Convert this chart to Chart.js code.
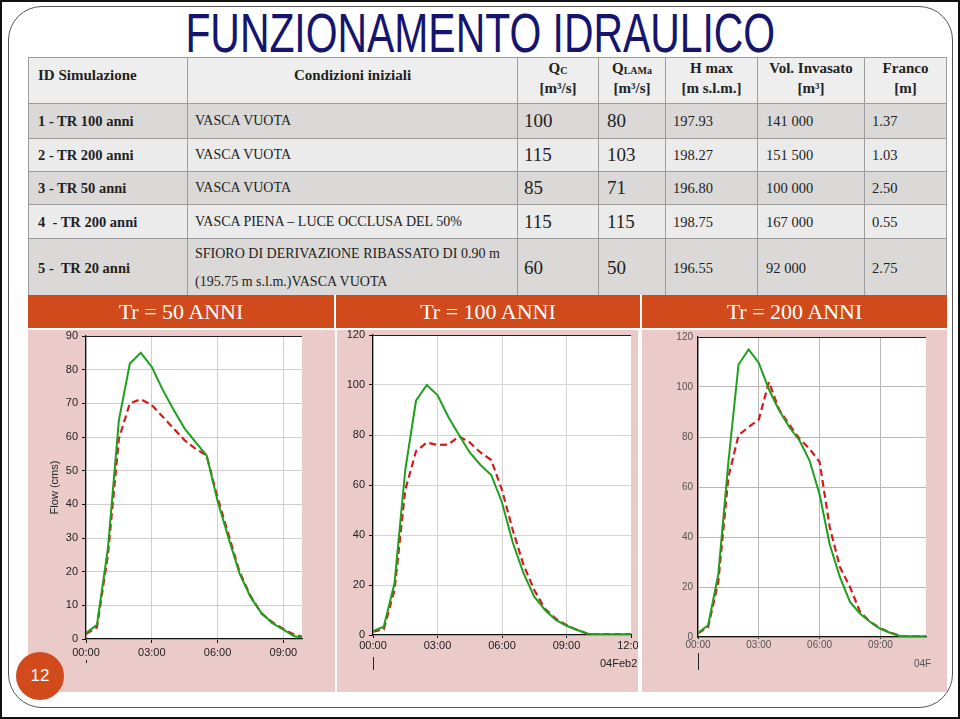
<!DOCTYPE html>
<html>
<head>
<meta charset="utf-8">
<title>Funzionamento idraulico</title>
<script src="https://cdn.jsdelivr.net/npm/chart.js@4.4.1/dist/chart.umd.min.js"></script>
<style>
html, body { margin: 0; padding: 0; }
body { width: 960px; height: 719px; position: relative; overflow: hidden; background: #fff; font-family: "Liberation Serif", "Times New Roman", serif; }
#outer { position: absolute; left: 0; top: 0; width: 956px; height: 715px; border: 2px solid #111; }
#frame { position: absolute; left: 8px; top: 6px; width: 943px; height: 700px; border: 1.5px solid #555; border-radius: 34px; }
#title { position: absolute; left: 0; top: 3px; width: 960px; text-align: center; white-space: nowrap;
  font: 56px/60px "Liberation Sans", Arial, sans-serif; color: #15156e;
  transform: scaleX(0.73); transform-origin: 481px 0; }
table { position: absolute; left: 28px; top: 57px; width: 918px; border-collapse: collapse; table-layout: fixed; }
td { border: 1.5px solid #9c9c9c; padding: 0 0 0 7px; font-size: 14px; line-height: 18px; color: #222; white-space: nowrap; overflow: hidden; }
tr.hd td { background: #eeeeee; vertical-align: top; padding-top: 0; line-height: 20px; font-weight: bold; text-align: center; padding-left: 0; font-size: 15px; }
tr.hd td.first { text-align: left; padding-left: 9px; padding-top: 7px; }
tr.hd td.cond { padding-top: 7px; }
tr.hd sub { font-size: 10px; line-height: 0; vertical-align: -1px; }
tr.dk td { background: #dad9d8; }
tr.lt td { background: #ebebeb; }
td.id { font-weight: bold; font-size: 14.5px; padding-left: 9px; }
td.q { font-size: 19px; padding-left: 6px; }
td.q2 { font-size: 19px; padding-left: 8px; }
td.h { font-size: 14.5px; padding-left: 7px; }
td.v { font-size: 14.5px; padding-left: 8px; }
td.cond2 { line-height: 28px; }
#band { position: absolute; left: 28px; top: 295px; width: 919px; height: 33px; display: flex; }
#band div { background: #d04a1c; color: #fff; font-size: 22px; line-height: 33px; text-align: center; }
.panel { position: absolute; top: 330px; height: 362px; background: #ebcaca; overflow: hidden; }
.panel canvas { position: absolute; left: 0; top: -20px; }
.date { position: absolute; font: 11px "Liberation Sans", Arial, sans-serif; color: #222; white-space: nowrap; }
#page { position: absolute; left: 16px; top: 652px; width: 48px; height: 48px; border-radius: 50%; background: #d04a1c; color: #fff;
  font: 17px/48px "Liberation Sans", Arial, sans-serif; text-align: center; }
</style>
</head>
<body>
<div id="outer"></div>
<div id="frame"></div>
<div id="title">FUNZIONAMENTO IDRAULICO</div>

<table>
  <colgroup>
    <col style="width:159px"><col style="width:330px"><col style="width:81px"><col style="width:67px">
    <col style="width:92px"><col style="width:107px"><col style="width:82px">
  </colgroup>
  <tr class="hd" style="height:46px">
    <td class="first">ID Simulazione</td>
    <td class="cond">Condizioni iniziali</td>
    <td>Q<sub>C</sub><br>[m³/s]</td>
    <td>Q<sub>LAMa</sub><br>[m³/s]</td>
    <td>H max<br>[m s.l.m.]</td>
    <td>Vol. Invasato<br>[m³]</td>
    <td>Franco<br>[m]</td>
  </tr>
  <tr class="dk" style="height:35px">
    <td class="id">1 - TR 100 anni</td><td>VASCA VUOTA</td>
    <td class="q">100</td><td class="q2">80</td><td class="h">197.93</td><td class="v">141 000</td><td class="h">1.37</td>
  </tr>
  <tr class="lt" style="height:33px">
    <td class="id">2 - TR 200 anni</td><td>VASCA VUOTA</td>
    <td class="q">115</td><td class="q2">103</td><td class="h">198.27</td><td class="v">151 500</td><td class="h">1.03</td>
  </tr>
  <tr class="dk" style="height:33px">
    <td class="id">3 - TR 50 anni</td><td>VASCA VUOTA</td>
    <td class="q">85</td><td class="q2">71</td><td class="h">196.80</td><td class="v">100 000</td><td class="h">2.50</td>
  </tr>
  <tr class="lt" style="height:34px">
    <td class="id">4&nbsp; - TR 200 anni</td><td>VASCA PIENA – LUCE OCCLUSA DEL 50%</td>
    <td class="q">115</td><td class="q2">115</td><td class="h">198.75</td><td class="v">167 000</td><td class="h">0.55</td>
  </tr>
  <tr class="dk" style="height:58px">
    <td class="id">5 -&nbsp; TR 20 anni</td><td class="cond2">SFIORO DI DERIVAZIONE RIBASSATO DI 0.90 m<br>(195.75 m s.l.m.)VASCA VUOTA</td>
    <td class="q">60</td><td class="q2">50</td><td class="h">196.55</td><td class="v">92 000</td><td class="h">2.75</td>
  </tr>
</table>

<div id="band">
  <div style="width:306px">Tr = 50 ANNI</div>
  <div style="width:2px;background:#fff"></div>
  <div style="width:304px">Tr = 100 ANNI</div>
  <div style="width:2px;background:#fff"></div>
  <div style="width:305px">Tr = 200 ANNI</div>
</div>

<div class="panel" style="left:28px;width:307px"><canvas id="c50"></canvas></div>
<div class="panel" style="left:337px;width:301px"><canvas id="c100"></canvas><div class="date" style="left:263px;top:327px">04Feb2</div></div>
<div class="panel" style="left:642px;width:305px"><canvas id="c200"></canvas><div class="date" style="left:272px;top:328px;font-size:10px;color:#555">04F</div></div>

<div id="page">12</div>

<script>
// ====== DATA (hours from 00:00, flow in cms) ======
const hoursTr50  = [0,0.5,1,1.5,2,2.5,3,3.5,4,4.5,5,5.5,6,6.5,7,7.5,8,8.5,9,9.5,10];
const inTr50     = [1.8,4.2,27,65,81.8,85,80.8,74,68,62.5,58.5,54.5,41,30,19.5,12.5,7.7,4.7,2.8,0.8,0.3];
const outTr50    = [1.5,3.5,25,59.5,70,71.2,69.5,66,62.5,59,56.5,54.5,42,31,20,12.8,7.6,5,3,1.3,0.5];

const hoursTr100 = [0,0.5,1,1.5,2,2.5,3,3.5,4,4.5,5,5.5,6,6.5,7,7.5,8,8.5,9,9.5,10,10.5,11,11.5,12];
const inTr100    = [1.6,3.3,20.7,66,93.7,100,96,87.3,80,73,68,64,53,37,24.7,15.3,10,6,3.7,2,0.5,0.3,0.3,0.3,0.3];
const outTr100   = [1.3,2.3,18,58,73.5,77,76,76.2,79.5,77,73,70,58,42,28,18,10.5,6.5,4,2,0.4,0.4,0.4,0.4,0.4];

const hoursTr200 = [0,0.5,1,1.5,2,2.5,3,3.5,4,4.5,5,5.5,6,6.5,7,7.5,8,8.5,9,9.5,10,10.5,11,11.5];
const inTr200    = [1.6,4.7,25,70,109,115,109.6,99,90.7,84,78.7,70.7,57,37,24,14,9.3,6,3.3,1.6,0.3,0.3,0.3,0.3];
const outTr200   = [1.5,4,22,64,80.7,84,87,102,91,85,79.3,75.3,70,44,28,20,10,6,3.5,1.8,0.3,0.3,0.3,0.3];

const hourTicks  = [0,3,6,9,12];

// ====== PLUGINS ======
const plotBg = {
  id: 'plotBg',
  beforeDraw(chart) {
    const { ctx, chartArea: a } = chart;
    ctx.save();
    ctx.fillStyle = '#fff';
    ctx.fillRect(a.left, a.top, a.right - a.left, a.bottom - a.top);
    ctx.restore();
  }
};
const dayMark = {
  id: 'dayMark',
  afterDraw(chart, args, opts) {
    const { ctx, chartArea: a } = chart;
    const x = Math.round(chart.scales.x.getPixelForValue(0)) + 0.5;
    ctx.save();
    ctx.strokeStyle = '#222';
    ctx.lineWidth = opts.width || 1;
    ctx.beginPath();
    ctx.moveTo(x, a.bottom + opts.from);
    ctx.lineTo(x, a.bottom + opts.to);
    ctx.stroke();
    ctx.restore();
  }
};

const hhmm = v => (v < 10 ? '0' + v : '' + v) + ':00';

// ====== CHART BUILDER ======
function drawHydro(id, hours, inflow, outflow, o) {
  const canvas = document.getElementById(id);
  const W = o.panelW + 40, H = 362 + 20;
  canvas.width = W; canvas.height = H;
  canvas.style.width = W + 'px'; canvas.style.height = H + 'px';
  const pts = arr => arr.map((y, i) => ({ x: hours[i], y }));
  return new Chart(canvas, {
    type: 'line',
    data: {
      datasets: [
        { label: 'Ingresso', data: pts(inflow), borderColor: '#1ea01e', borderWidth: 2, pointRadius: 0, tension: 0 },
        { label: 'Uscita', data: pts(outflow), borderColor: '#d41c1c', borderWidth: 2.2, borderDash: [7, 4], pointRadius: 0, tension: 0 }
      ]
    },
    options: {
      responsive: false,
      animation: false,
      layout: { padding: { left: 0, top: o.top + 20, right: W - o.right, bottom: 362 - o.bottom - 30 } },
      plugins: {
        legend: { display: false },
        tooltip: { enabled: false },
        dayMark: o.mark
      },
      scales: {
        x: {
          type: 'linear', min: 0, max: o.xMax,
          afterFit: s => { s.height = 30; },
          border: { color: '#111', width: 1.2 },
          grid: { color: o.grid, tickColor: '#111', tickLength: o.xTick },
          ticks: {
            includeBounds: false, autoSkip: false, maxRotation: 0, padding: o.xPad,
            color: o.tickColor, font: { family: 'Liberation Sans', size: o.fs },
            callback: v => hhmm(v)
          },
          afterBuildTicks: s => { s.ticks = hourTicks.filter(h => h <= o.xMax).map(v => ({ value: v })); }
        },
        y: {
          min: 0, max: o.yMax,
          afterFit: s => { s.width = o.left; },
          border: { color: '#111', width: 1.2 },
          grid: {
            color: c => (c.tick && c.tick.value === o.yMax) ? '#222' : o.grid,
            tickColor: '#111', drawTicks: o.yTick > 0, tickLength: o.yTick
          },
          ticks: { stepSize: o.yStep, padding: o.yPad, color: o.tickColor, font: { family: 'Liberation Sans', size: o.fs } },
          title: o.yTitle
            ? { display: true, text: o.yTitle, color: '#222', font: { family: 'Liberation Sans', size: 11 }, padding: { top: 20, bottom: 0 } }
            : { display: false }
        }
      }
    },
    plugins: [plotBg, dayMark]
  });
}

drawHydro('c50', hoursTr50, inTr50, outTr50, {
  panelW: 307, left: 58, right: 274, top: 6, bottom: 309,
  xMax: 9.85, yMax: 90, yStep: 10, grid: '#cfcfcf', tickColor: '#222', fs: 11,
  xTick: 4, xPad: 3, yTick: 4, yPad: 4, yTitle: 'Flow (cms)',
  mark: { from: 21, to: 24 }
});
drawHydro('c100', hoursTr100, inTr100, outTr100, {
  panelW: 301, left: 36, right: 294, top: 5, bottom: 305,
  xMax: 12, yMax: 120, yStep: 20, grid: '#d4d4d4', tickColor: '#222', fs: 11,
  xTick: 3, xPad: 1, yTick: 4, yPad: 4, yTitle: null,
  mark: { from: 22, to: 35 }
});
drawHydro('c200', hoursTr200, inTr200, outTr200, {
  panelW: 305, left: 56, right: 284, top: 7, bottom: 307,
  xMax: 11.25, yMax: 120, yStep: 20, grid: '#b8b8b8', tickColor: '#555', fs: 10,
  xTick: 2, xPad: 0, yTick: 0, yPad: 5, yTitle: null,
  mark: { from: 16, to: 33 }
});
</script>
</body>
</html>
